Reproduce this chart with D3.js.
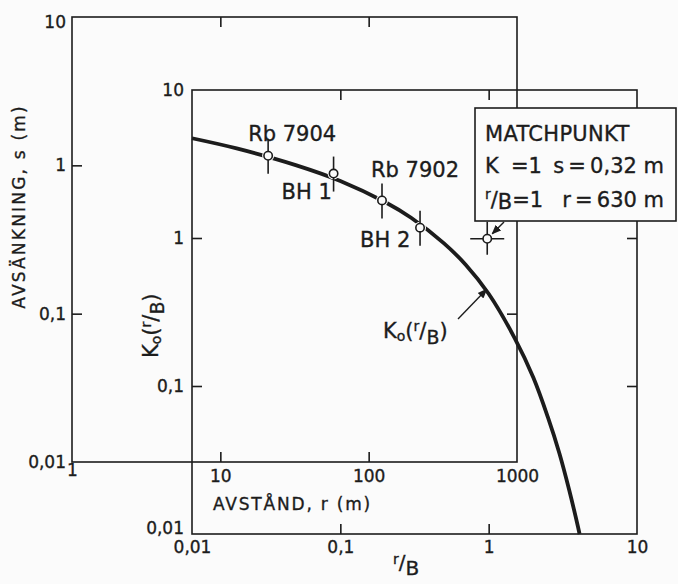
<!DOCTYPE html>
<html><head><meta charset="utf-8">
<script src="https://cdn.jsdelivr.net/npm/d3@7"></script>
<style>
body{margin:0;background:#fbfbfb;}
svg{display:block;}
text{font-family:"DejaVu Sans",sans-serif;fill:#1c1c1c;stroke:#1c1c1c;stroke-width:0.35px;}
</style>
</head><body>
<svg id="c" width="678" height="584"></svg>
<script>
// ---------- data ----------
// outer (field data) axes
const outerXTicks = [1, 10, 100, 1000];
const outerXLabels = ["1", "10", "100", "1000"];
const outerYTicks = [0.01, 0.1, 1, 10];
const outerYLabels = ["0,01", "0,1", "1", "10"];
// inner (type curve) axes
const innerXTicks = [0.01, 0.1, 1, 10];
const innerXLabels = ["0,01", "0,1", "1", "10"];
const innerYTicks = [0.01, 0.1, 1, 10];
const innerYLabels = ["0,01", "0,1", "1", "10"];
const interiorOuterX = [10, 100];
const interiorOuterY = [0.1, 1];
const interiorInner = [0.1, 1];
// type curve K0(r/B)
const curveRB = [0.01, 0.02, 0.05, 0.1, 0.2, 0.3, 0.5, 0.7, 1, 1.5, 2, 2.5, 3, 3.5, 4, 4.1];
const curveK0 = [4.72, 4.03, 3.11, 2.43, 1.75, 1.37, 0.92, 0.66, 0.42, 0.21, 0.114, 0.062, 0.035, 0.0196, 0.0112, 0.0100];
// observation wells (outer axes: r in m, s in m)
const wellNames = ["Rb 7904", "BH 1", "Rb 7902", "BH 2"];
const wellR = [21, 58, 123, 222];
const wellS = [1.16, 0.88, 0.58, 0.38];
// match point
const matchR = 630, matchS = 0.32, matchK = 1, matchRB = 1;

// ---------- scales ----------
const svg = d3.select("#c");
const INK = "#1c1c1c";
svg.append("rect").attr("width", 678).attr("height", 584).attr("fill", "#fbfbfb");

const ox = d3.scaleLog().domain([1, 1000]).range([72, 517]);
const oy = d3.scaleLog().domain([0.01, 10]).range([462, 17]);
const ix = d3.scaleLog().domain([0.01, 10]).range([192, 637]);
const iy = d3.scaleLog().domain([0.01, 10]).range([534, 90]);

function frame(xs, ys) {
  const [x0, x1] = xs.range(), [y0, y1] = ys.range();
  svg.append("rect").attr("x", x0).attr("y", y1)
    .attr("width", x1 - x0).attr("height", y0 - y1)
    .attr("fill", "none").attr("stroke", INK).attr("stroke-width", 1.6);
}
function tickAxes(xs, ys, xv, yv) {
  const [x0, x1] = xs.range(), [y0, y1] = ys.range();
  const defs = [
    [d3.axisBottom(xs).tickValues(xv), `translate(0,${y0})`],
    [d3.axisTop(xs).tickValues(xv), `translate(0,${y1})`],
    [d3.axisLeft(ys).tickValues(yv), `translate(${x0},0)`],
    [d3.axisRight(ys).tickValues(yv), `translate(${x1},0)`]
  ];
  defs.forEach(([ax, tr]) => {
    const g = svg.append("g").attr("transform", tr)
      .call(ax.tickSize(-10).tickFormat(""));
    g.select(".domain").remove();
    g.selectAll("line").attr("stroke", INK).attr("stroke-width", 1.6);
  });
}
function labelAxis(axis, tr, labels, ticks, pad) {
  const g = svg.append("g").attr("transform", tr)
    .call(axis.tickValues(ticks).tickSize(0).tickPadding(pad)
      .tickFormat(d => labels[ticks.indexOf(d)]));
  g.select(".domain").remove();
  g.selectAll("text").attr("font-size", 17).attr("font-family", "DejaVu Sans").attr("fill", INK);
  return g;
}

// ---------- outer frame ----------
frame(ox, oy);
tickAxes(ox, oy, interiorOuterX, interiorOuterY);
const oxl = labelAxis(d3.axisBottom(ox), `translate(0,${oy(0.01)})`, outerXLabels, outerXTicks, 8);
oxl.selectAll(".tick").filter(d => d === 1).select("text").attr("y", 2);
const oyl = labelAxis(d3.axisLeft(oy), `translate(${ox(1)},0)`, outerYLabels, outerYTicks, 6);
oyl.selectAll(".tick").filter(d => d === 10).select("text").attr("dy", "0.6em");

// ---------- inner frame ----------
frame(ix, iy);
tickAxes(ix, iy, interiorInner, interiorInner);
labelAxis(d3.axisBottom(ix), `translate(0,${iy(0.01)})`, innerXLabels, innerXTicks, 7);
const iyl = labelAxis(d3.axisLeft(iy), `translate(${ix(0.01)},0)`, innerYLabels, innerYTicks, 8);
iyl.selectAll(".tick").filter(d => d === 0.01).select("text").attr("dy", "-0.05em");

// ---------- axis titles ----------
svg.append("text").attr("transform", `translate(25,${(oy(1) + oy(0.1)) / 2 - 33}) rotate(-90)`)
  .attr("text-anchor", "middle").attr("font-size", 17).attr("letter-spacing", 2.2)
  .text("AVSÄNKNING, s (m)");
svg.append("text").attr("x", 213).attr("y", 510).attr("font-size", 17).attr("letter-spacing", 1.8)
  .text("AVSTÅND, r (m)");

function kLabel(sel, big, small) {
  sel.append("tspan").text("K");
  sel.append("tspan").attr("font-size", small).attr("dy", 3).text("o");
  sel.append("tspan").attr("dy", -3).text("(");
  sel.append("tspan").attr("font-size", small).attr("dy", -7).text("r");
  sel.append("tspan").attr("dy", 7).text("/");
  sel.append("tspan").attr("font-size", big * 0.9).attr("dy", 6).text("B");
  sel.append("tspan").attr("dy", -6).text(")");
}
const yk = svg.append("text").attr("transform", `translate(158,358) rotate(-90)`).attr("font-size", 21);
kLabel(yk, 21, 14);

const rb = svg.append("text").attr("x", 393).attr("y", 569).attr("font-size", 20);
rb.append("tspan").attr("font-size", 14).attr("dy", -5).text("r");
rb.append("tspan").attr("dy", 5).text("/");
rb.append("tspan").attr("dy", 6).text("B");

// ---------- type curve ----------
const line = d3.line().x((d, i) => ix(curveRB[i])).y((d, i) => iy(curveK0[i])).curve(d3.curveCatmullRom);
svg.append("path").attr("d", line(curveRB)).attr("fill", "none")
  .attr("stroke", INK).attr("stroke-width", 3.8).attr("stroke-linecap", "butt");

// curve label + arrow
const kl = svg.append("text").attr("x", 383).attr("y", 338).attr("font-size", 21);
kLabel(kl, 21, 14);
svg.append("defs").append("marker").attr("id", "ah").attr("viewBox", "0 0 10 10")
  .attr("refX", 9).attr("refY", 5).attr("markerWidth", 7).attr("markerHeight", 7)
  .attr("orient", "auto").append("path").attr("d", "M0,1 L10,5 L0,9 Z").attr("fill", INK);
svg.append("line").attr("x1", 458).attr("y1", 319).attr("x2", ix(0.97)).attr("y2", iy(0.45))
  .attr("stroke", INK).attr("stroke-width", 1.4).attr("marker-end", "url(#ah)");

// ---------- wells ----------
const wells = wellNames.map((n, i) => ({ n, x: ox(wellR[i]), y: oy(wellS[i]) }));
svg.selectAll(".halo").data(wells).enter().append("circle")
  .attr("cx", d => d.x).attr("cy", d => d.y).attr("r", 6).attr("fill", "#fbfbfb");
svg.selectAll(".eb").data(wells).enter().append("line")
  .attr("x1", d => d.x).attr("x2", d => d.x).attr("y1", d => d.y - 17).attr("y2", d => d.y + 18)
  .attr("stroke", INK).attr("stroke-width", 1.6);
svg.selectAll(".pt").data(wells).enter().append("circle")
  .attr("cx", d => d.x).attr("cy", d => d.y).attr("r", 4.2)
  .attr("fill", "#fbfbfb").attr("stroke", INK).attr("stroke-width", 1.6);
// well labels
const labelPos = { "Rb 7904": [-20, -15], "BH 1": [-52, 25], "Rb 7902": [-11, -23], "BH 2": [-60, 19] };
svg.selectAll(".wl").data(wells).enter().append("text")
  .attr("x", d => d.x + labelPos[d.n][0]).attr("y", d => d.y + labelPos[d.n][1])
  .attr("font-size", 21).text(d => d.n);

// ---------- match point ----------
const mx = ox(matchR), my = oy(matchS);
svg.append("line").attr("x1", mx - 17).attr("x2", mx + 17).attr("y1", my).attr("y2", my).attr("stroke", INK).attr("stroke-width", 1.6);
svg.append("line").attr("x1", mx).attr("x2", mx).attr("y1", my - 17).attr("y2", my + 16).attr("stroke", INK).attr("stroke-width", 1.6);
svg.append("circle").attr("cx", mx).attr("cy", my).attr("r", 4.2).attr("fill", "#fbfbfb").attr("stroke", INK).attr("stroke-width", 1.6);
svg.append("line").attr("x1", 504).attr("y1", 222).attr("x2", mx + 5).attr("y2", my - 5)
  .attr("stroke", INK).attr("stroke-width", 1.4).attr("marker-end", "url(#ah)");

// ---------- MATCHPUNKT box ----------
svg.append("rect").attr("x", 475).attr("y", 108).attr("width", 201).attr("height", 113)
  .attr("fill", "#fbfbfb").attr("stroke", INK).attr("stroke-width", 1.6);
svg.append("text").attr("x", 485).attr("y", 141).attr("font-size", 21).attr("letter-spacing", 0.3).text("MATCHPUNKT");
svg.append("text").attr("x", 485).attr("y", 173).attr("font-size", 21).text("K");
svg.append("text").attr("x", 511).attr("y", 173).attr("font-size", 21).text(`=${String(matchK)}`);
svg.append("text").attr("x", 664).attr("y", 173).attr("font-size", 21).attr("text-anchor", "end")
  .text(`s\u2009=\u2009${String(matchS).replace(".", ",")} m`);
const l3 = svg.append("text").attr("x", 485).attr("y", 207).attr("font-size", 21);
l3.append("tspan").attr("font-size", 14).attr("dy", -8).text("r");
l3.append("tspan").attr("dy", 8).text("/");
l3.append("tspan").attr("dy", 2).text("B");
l3.append("tspan").attr("dy", -2).text(`=${String(matchRB)}`);
svg.append("text").attr("x", 664).attr("y", 207).attr("font-size", 21).attr("text-anchor", "end")
  .text(`r\u2009=\u2009${matchR} m`);
</script>
</body></html>
